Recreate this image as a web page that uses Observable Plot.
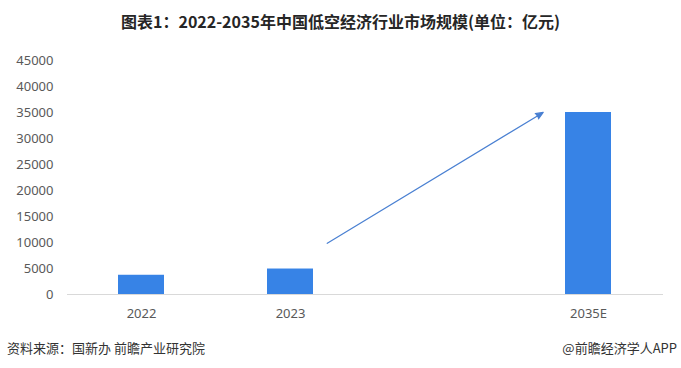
<!DOCTYPE html>
<html>
<head>
<meta charset="utf-8">
<script src="https://cdn.jsdelivr.net/npm/d3@7"></script>
<script src="https://cdn.jsdelivr.net/npm/@observablehq/plot@0.6"></script>
<style>
  html, body { margin: 0; padding: 0; background: #fff; }
  #wrap { width: 681px; height: 368px; position: relative; font-family: "Noto Sans CJK SC", "Noto Sans", sans-serif; }
  #title { height: 40px; line-height: 42px; text-align: center; font-size: 16px; font-weight: bold; color: #262626; }
  #footer { position: absolute; left: 0; right: 0; top: 338px; height: 22px; font-size: 13px; color: #333; }
  #footer .src { position: absolute; left: 7px; }
  #footer .brand { position: absolute; right: 4px; }
</style>
</head>
<body>
<div id="wrap">
  <div id="title">图表1：2022-2035年中国低空经济行业市场规模(单位：亿元)</div>
  <div id="chart"></div>
  <div id="footer"><span class="src">资料来源：国新办 前瞻产业研究院</span><span class="brand">@前瞻经济学人APP</span></div>
</div>
<script>
// Market size by year (亿元); the empty slot keeps the gap before the forecast year
const categories = ["2022", "2023", "", "2035E"];
const years = ["2022", "2023", "2035E"];
const values = [3700, 4900, 35000];
const yTicks = [0, 5000, 10000, 15000, 20000, 25000, 30000, 35000, 40000, 45000];

// Growth arrow annotation, from the 2023 column towards the 2035E column
const arrowFrom = {x: "2023", y: 5550};
const arrowTo = {x: "2035E", y: 40300};

const data = years.map((year, i) => ({year, value: values[i]}));
const blue = "#3783E6";

const chart = Plot.plot({
  width: 681,
  height: 290,
  marginTop: 20,
  marginBottom: 36,
  marginLeft: 67,
  marginRight: 18,
  style: {fontFamily: "'Noto Sans', 'Liberation Sans', sans-serif", fontSize: "13px", color: "#595959", background: "transparent"},
  x: {domain: categories, paddingInner: 0.69, paddingOuter: 0.345, label: null, tickSize: 0, tickPadding: 14},
  y: {domain: [0, 45000], ticks: yTicks, label: null, tickSize: 0, tickPadding: 14, tickFormat: d => String(d)},
  marks: [
    Plot.barY(data, {x: "year", y: "value", fill: blue}),
    Plot.ruleY([0], {stroke: "#d9d9d9", strokeWidth: 1}),
    Plot.arrow([{}], {
      x1: () => arrowFrom.x, y1: () => arrowFrom.y,
      x2: () => arrowTo.x, y2: () => arrowTo.y,
      insetStart: 43, insetEnd: 53,
      stroke: "#4A80D2", fill: "#4A80D2", strokeWidth: 1.2,
      headLength: 10, headAngle: 45
    })
  ]
});
document.getElementById("chart").appendChild(chart);
</script>
</body>
</html>
